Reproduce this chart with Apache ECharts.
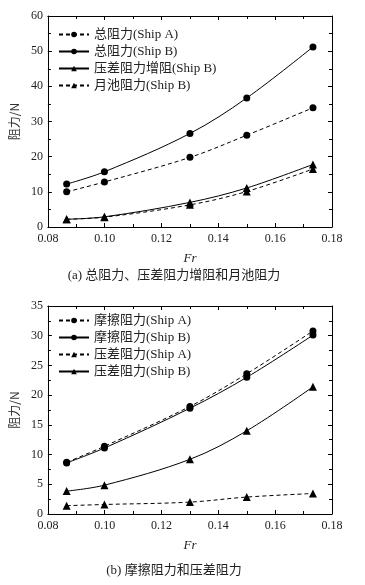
<!DOCTYPE html>
<html>
<head>
<meta charset="utf-8">
<script src="https://cdn.jsdelivr.net/npm/echarts@6/dist/echarts.min.js"></script>
<style>html,body{margin:0;padding:0;background:#fff;}#c{width:365px;height:585px;}</style>
</head>
<body>
<div id="c"></div>
<script>
// Froude numbers (shared x values)
const fr = [0.0866, 0.0999, 0.13, 0.15, 0.1733];
// (a) total / pressure-increase / moon pool resistance, N
const totalA = [10.0, 12.8, 19.8, 26.1, 33.9];
const totalB = [12.2, 15.7, 26.6, 36.7, 51.2];
const pressIncB = [2.2, 2.9, 7.0, 11.1, 17.8];
const moonPoolB = [2.2, 2.8, 6.3, 10.1, 16.5];
// (b) friction and pressure resistance, N
const fricA = [8.7, 11.4, 18.1, 23.6, 30.8];
const fricB = [8.6, 11.1, 17.8, 23.0, 30.1];
const pressA = [1.4, 1.6, 2.0, 2.85, 3.45];
const pressB = [3.85, 4.85, 9.2, 14.0, 21.4];

const namesA = ['总阻力(Ship A)', '总阻力(Ship B)', '压差阻力增阻(Ship B)', '月池阻力(Ship B)'];
const namesB = ['摩擦阻力(Ship A)', '摩擦阻力(Ship B)', '压差阻力(Ship A)', '压差阻力(Ship B)'];
const xTicks = {min: 0.08, max: 0.18, interval: 0.02};
const yA = {min: 0, max: 60, interval: 10};
const yB = {min: 0, max: 35, interval: 5};
const captionA = '(a) 总阻力、压差阻力增阻和月池阻力';
const captionB = '(b) 摩擦阻力和压差阻力';

const pairs = ys => fr.map((x, i) => [x, ys[i]]);
const serifFont = "'Liberation Serif', 'Noto Sans CJK SC', serif";
const txtColor = '#222';

function xAx(grid, pos, showLabel, withName) {
  return Object.assign({
    type: 'value', gridIndex: grid, position: pos,
    axisLine: {onZero: false, lineStyle: {color: '#000', width: 1}},
    axisTick: {inside: true, length: 4, lineStyle: {color: '#000'}},
    minorTick: {show: true, splitNumber: 2, length: 3, lineStyle: {color: '#000'}},
    splitLine: {show: false},
    axisLabel: {show: showLabel, color: txtColor, fontSize: 12, fontFamily: serifFont, margin: 6,
      formatter: v => v.toFixed(2)},
    name: withName ? 'Fr' : '', nameLocation: 'middle', nameGap: 25,
    nameTextStyle: {fontStyle: 'italic', fontFamily: serifFont, fontSize: 13, color: txtColor}
  }, xTicks);
}
function yAx(grid, pos, showLabel, r) {
  return Object.assign({
    type: 'value', gridIndex: grid, position: pos,
    axisLine: {show: true, onZero: false, lineStyle: {color: '#000', width: 1}},
    axisTick: {show: true, inside: true, length: 4, lineStyle: {color: '#000'}},
    minorTick: {show: true, splitNumber: 2, length: 3, lineStyle: {color: '#000'}},
    splitLine: {show: false},
    axisLabel: {show: showLabel, color: txtColor, fontSize: 12, fontFamily: serifFont, margin: 5},
    name: showLabel ? '阻力/N' : '', nameLocation: 'middle', nameGap: 27,
    nameTextStyle: {fontFamily: "'Noto Sans CJK SC'", fontSize: 12, color: '#333'}
  }, r);
}
function line(name, ys, xi, yi, dashed, sym) {
  return {
    name, type: 'line', xAxisIndex: xi, yAxisIndex: yi, data: pairs(ys),
    smooth: 0.35, symbol: sym, symbolSize: sym === 'circle' ? 7 : 8,
    lineStyle: {color: '#000', width: 1, type: dashed ? [4, 3] : 'solid'},
    itemStyle: {color: '#000'}, emphasis: {disabled: true}
  };
}
function legend(names, top) {
  return {
    data: names, orient: 'vertical', left: 53, top: top,
    itemWidth: 30, itemHeight: 7, itemGap: 4,
    textStyle: {fontFamily: serifFont, fontSize: 13, color: txtColor},
    selectedMode: false
  };
}

const chart = echarts.init(document.getElementById('c'), null, {renderer: 'canvas'});
chart.setOption({
  animation: false,
  backgroundColor: '#fff',
  grid: [
    {left: 47, top: 16, width: 285, height: 211},
    {left: 47, top: 306, width: 285, height: 208}
  ],
  xAxis: [xAx(0, 'bottom', true, true), xAx(0, 'top', false, false),
          xAx(1, 'bottom', true, true), xAx(1, 'top', false, false)],
  yAxis: [yAx(0, 'left', true, yA), yAx(0, 'right', false, yA),
          yAx(1, 'left', true, yB), yAx(1, 'right', false, yB)],
  legend: [legend(namesA, 23), legend(namesB, 309)],
  series: [
    line(namesA[0], totalA, 0, 0, true, 'circle'),
    line(namesA[1], totalB, 0, 0, false, 'circle'),
    line(namesA[2], pressIncB, 0, 0, false, 'triangle'),
    line(namesA[3], moonPoolB, 0, 0, true, 'triangle'),
    line(namesB[0], fricA, 2, 2, true, 'circle'),
    line(namesB[1], fricB, 2, 2, false, 'circle'),
    line(namesB[2], pressA, 2, 2, true, 'triangle'),
    line(namesB[3], pressB, 2, 2, false, 'triangle')
  ],
  graphic: [
    {type: 'text', x: 174, y: 276, style: {text: captionA, fontSize: 13, fontFamily: serifFont,
      fill: txtColor, align: 'center', verticalAlign: 'middle'}},
    {type: 'text', x: 174, y: 571, style: {text: captionB, fontSize: 13, fontFamily: serifFont,
      fill: txtColor, align: 'center', verticalAlign: 'middle'}}
  ]
});
</script>
</body>
</html>
